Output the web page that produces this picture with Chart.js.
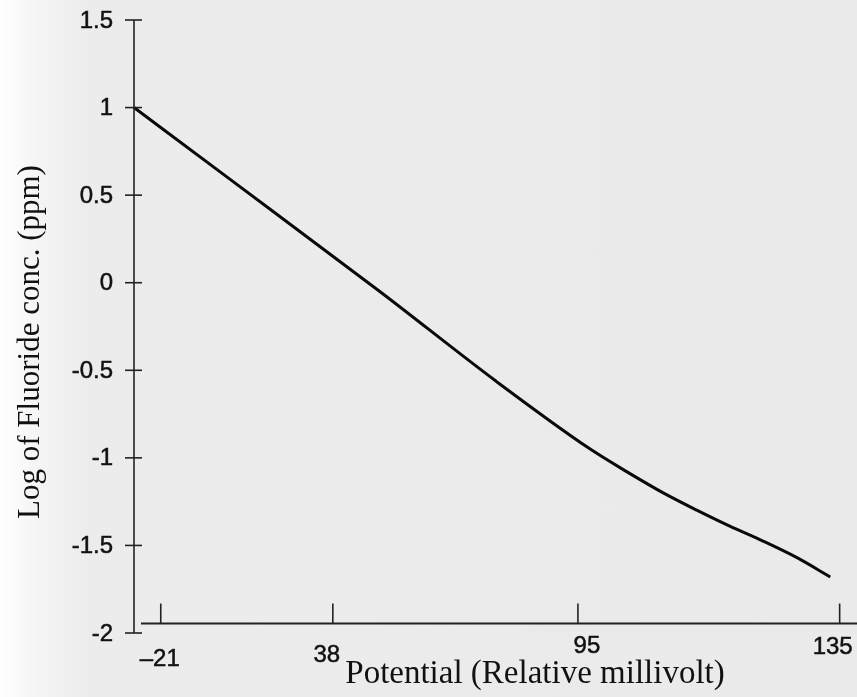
<!DOCTYPE html>
<html>
<head>
<meta charset="utf-8">
<script src="https://cdn.jsdelivr.net/npm/chart.js@4.4.0/dist/chart.umd.min.js"></script>
<style>
  html, body { margin: 0; padding: 0; }
  body {
    width: 857px; height: 697px; overflow: hidden;
    background: linear-gradient(to right, #ffffff 0px, #f5f5f5 35px, #ececec 85px, #eaeaea 100%);
  }
</style>
</head>
<body>
<canvas id="fluorideChart" width="857" height="697"></canvas>
<script>
// position along the plot's own (uniform) x axis, and log of fluoride conc.
const curveX = [0, 13.3, 34.0, 50.0, 63.1, 68.6, 73.2, 77.9, 82.4, 87.0, 91.7, 96.3];
const logFluoride = [1.0, 0.59, -0.05, -0.56, -0.95, -1.09, -1.2, -1.3, -1.39, -1.475, -1.57, -1.68];

// the x ticks were relabelled in millivolts on that axis
const xTickPos = [3.7, 27.5, 61.4, 97.6];
const xTickLabels = ['\u201321', '38', '95', '135'];
const yTicks = [1.5, 1, 0.5, 0, -0.5, -1, -1.5, -2];

const yTitle = 'Log of Fluoride conc. (ppm)';
const xTitle = 'Potential (Relative millivolt)';

function label(ctx, text, x, y) {
    ctx.fillText(text, x, y);
    ctx.strokeText(text, x, y);
}

const axesPlugin = {
    id: 'axes',
    afterDraw(chart, args, opts) {
        const ctx = chart.ctx;
        const xs = chart.scales.x, ys = chart.scales.y;
        const left = xs.left;
        ctx.save();
        ctx.strokeStyle = '#222';
        ctx.fillStyle = '#111';

        // y axis
        ctx.lineWidth = 1.6;
        ctx.beginPath();
        ctx.moveTo(left, ys.getPixelForValue(1.5));
        ctx.lineTo(left, ys.getPixelForValue(-2));
        ctx.stroke();
        yTicks.forEach(v => {
            const y = ys.getPixelForValue(v);
            ctx.beginPath();
            ctx.moveTo(left - 9, y);
            ctx.lineTo(left + 8, y);
            ctx.stroke();
        });

        // x axis, sitting a little above -2
        const ay = ys.getPixelForValue(opts.crossAt);
        ctx.lineWidth = 2;
        ctx.beginPath();
        ctx.moveTo(left + 7, ay);
        ctx.lineTo(chart.width, ay);
        ctx.stroke();
        ctx.lineWidth = 1.6;
        xTickPos.forEach(p => {
            const x = xs.getPixelForValue(p);
            ctx.beginPath();
            ctx.moveTo(x, ay);
            ctx.lineTo(x, ay - 20);
            ctx.stroke();
        });

        // tick labels
        ctx.font = '24px "Liberation Sans", Arial, sans-serif';
        ctx.lineWidth = 0.5;
        ctx.strokeStyle = '#111';
        ctx.textBaseline = 'middle';
        ctx.textAlign = 'right';
        yTicks.forEach(v => label(ctx, String(v), left - 21, ys.getPixelForValue(v) + 1));
        ctx.textAlign = 'center';
        xTickPos.forEach((p, i) => {
            label(ctx, xTickLabels[i], xs.getPixelForValue(p) + opts.labelDx[i], ay + opts.labelDy[i]);
        });

        // titles
        ctx.textBaseline = 'alphabetic';
        ctx.font = '33px "Liberation Serif", "Times New Roman", serif';
        ctx.fillText(xTitle, 535, 683);
        ctx.font = '31px "Liberation Serif", "Times New Roman", serif';
        ctx.translate(39, 342);
        ctx.rotate(-Math.PI / 2);
        ctx.fillText(yTitle, 0, 0);
        ctx.restore();
    }
};

new Chart(document.getElementById('fluorideChart'), {
    type: 'line',
    data: {
        datasets: [{
            data: curveX.map((x, i) => ({ x: x, y: logFluoride[i] })),
            borderColor: '#0a0a0a',
            borderWidth: 3,
            pointRadius: 0,
            tension: 0.4,
            cubicInterpolationMode: 'monotone',
            clip: false
        }]
    },
    options: {
        responsive: false,
        animation: false,
        layout: { padding: { left: 134, top: 20, right: 0, bottom: 64 } },
        scales: {
            x: { type: 'linear', min: 0, max: 100, display: false },
            y: { min: -2, max: 1.5, display: false }
        },
        plugins: {
            legend: { display: false },
            tooltip: { enabled: false },
            axes: { crossAt: -1.946, labelDx: [-1, -6, 9, -7], labelDy: [36, 32, 23, 24] }
        }
    },
    plugins: [axesPlugin]
});
</script>
</body>
</html>
